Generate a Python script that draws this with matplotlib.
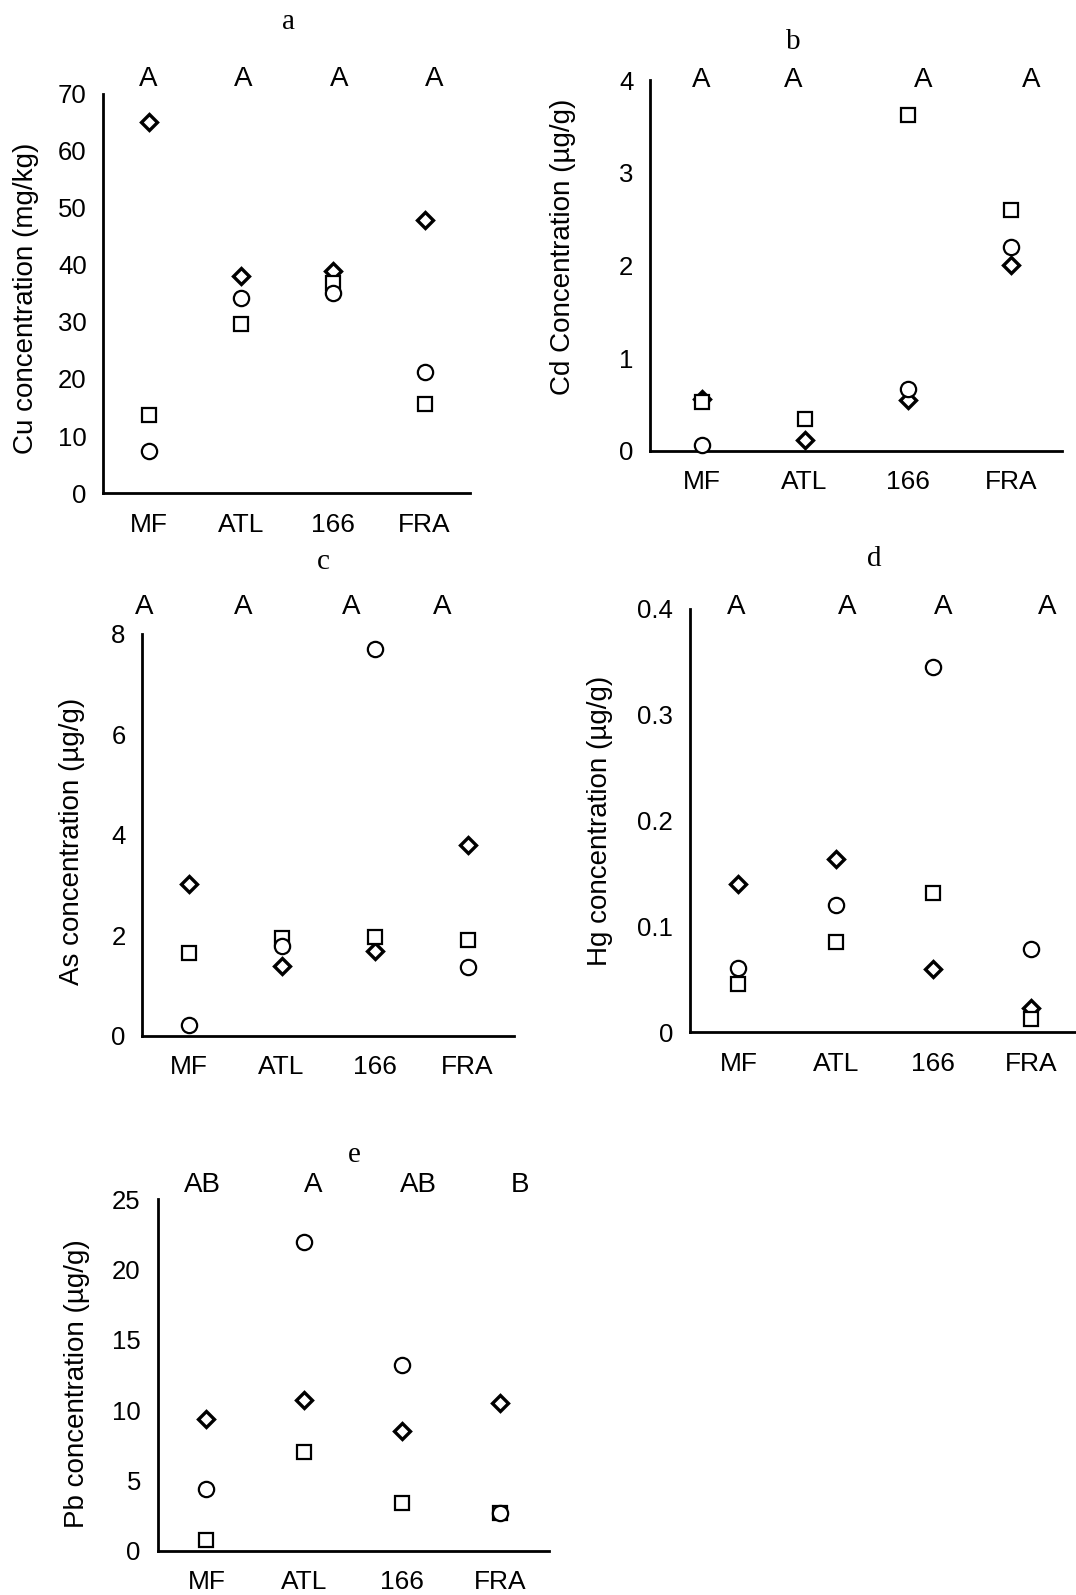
import numpy as np
import matplotlib
matplotlib.use('Agg')
import matplotlib.pyplot as plt
from matplotlib.ticker import FuncFormatter

# ---------------- data ----------------
categories = ['MF', 'ATL', '166', 'FRA']

cu_diamond = [65.0, 38.1, 38.9, 47.8]
cu_square = [13.7, 29.7, 36.9, 15.6]
cu_circle = [7.3, 34.2, 35.1, 21.3]
cu_letters = ['A', 'A', 'A', 'A']

cd_diamond = [0.56, 0.12, 0.55, 2.00]
cd_square = [0.53, 0.34, 3.62, 2.60]
cd_circle = [0.06, np.nan, 0.67, 2.20]
cd_letters = ['A', 'A', 'A', 'A']

as_diamond = [3.03, 1.40, 1.68, 3.80]
as_square = [1.64, 1.95, 1.97, 1.90]
as_circle = [0.21, 1.78, 7.70, 1.37]
as_letters = ['A', 'A', 'A', 'A']

hg_diamond = [0.140, 0.164, 0.060, 0.023]
hg_square = [0.046, 0.085, 0.132, 0.013]
hg_circle = [0.061, 0.120, 0.345, 0.079]
hg_letters = ['A', 'A', 'A', 'A']

pb_diamond = [9.35, 10.72, 8.52, 10.48]
pb_square = [0.76, 7.0, 3.42, 2.66]
pb_circle = [4.36, 21.99, 13.21, 2.66]
pb_letters = ['AB', 'A', 'AB', 'B']

cu_ticks = [0, 10, 20, 30, 40, 50, 60, 70]
cd_ticks = [0, 1, 2, 3, 4]
as_ticks = [0, 2, 4, 6, 8]
hg_ticks = [0, 0.1, 0.2, 0.3, 0.4]
pb_ticks = [0, 5, 10, 15, 20, 25]

# ---------------- layout (pixels) ----------------
W, H = 1076, 1595
SANS = ['Liberation Sans', 'DejaVu Sans']
SERIF = ['Liberation Serif', 'DejaVu Serif']

fig = plt.figure(figsize=(W / 100, H / 100), dpi=100)


def fx(x):
    return x / W


def fy(y):
    return 1 - y / H


panels = [
    dict(box=(103.3, 93.7, 470.5, 493.1), title='a', tpos=(288.6, 22.4),
         lx=[148, 242.8, 339.2, 434.6], ly=79.2, ylpos=(25.8, 298),
         ylabel='Cu concentration (mg/kg)',
         d=cu_diamond, s=cu_square, c=cu_circle, letters=cu_letters, ticks=cu_ticks),
    dict(box=(650.0, 80.0, 1062.3, 450.7), title='b', tpos=(792.9, 41.7),
         lx=[701.3, 792.9, 923.5, 1031.4], ly=80.0, ylpos=(563, 246.7),
         ylabel='Cd Concentration (\u00b5g/g)',
         d=cd_diamond, s=cd_square, c=cd_circle, letters=cd_letters, ticks=cd_ticks),
    dict(box=(142.2, 633.7, 514.0, 1035.9), title='c', tpos=(323.7, 562.4),
         lx=[144.6, 243.5, 351.2, 442.5], ly=607.1, ylpos=(72.3, 841.3),
         ylabel='As concentration (\u00b5g/g)',
         d=as_diamond, s=as_square, c=as_circle, letters=as_letters, ticks=as_ticks),
    dict(box=(689.6, 608.9, 1079.5, 1032.4), title='d', tpos=(874.3, 558.9),
         lx=[735.7, 847.3, 943.3, 1047.3], ly=607.1, ylpos=(600, 821.3),
         ylabel='Hg concentration (\u00b5g/g)',
         d=hg_diamond, s=hg_square, c=hg_circle, letters=hg_letters, ticks=hg_ticks),
    dict(box=(157.5, 1199.3, 549.0, 1550.7), title='e', tpos=(354.6, 1155),
         lx=[202.9, 313.6, 418.6, 519.6], ly=1185, ylpos=(76.8, 1383.3),
         ylabel='Pb concentration (\u00b5g/g)',
         d=pb_diamond, s=pb_square, c=pb_circle, letters=pb_letters, ticks=pb_ticks),
]

fmt = FuncFormatter(lambda v, p: '{:g}'.format(round(v, 6)))

for p in panels:
    x0, y0, x1, y1 = p['box']
    ax = fig.add_axes([fx(x0), fy(y1), (x1 - x0) / W, (y1 - y0) / H])
    xs = np.arange(len(categories))
    ax.plot(xs, p['d'], ls='none', marker='D', ms=8, mfc='white', mec='black',
            mew=2.4, zorder=3, clip_on=False)
    ax.plot(xs, p['s'], ls='none', marker='s', ms=10, mfc='white', mec='black',
            mew=1.6, zorder=4, clip_on=False)
    ax.plot(xs, p['c'], ls='none', marker='o', ms=11, mfc='white', mec='black',
            mew=1.6, zorder=5, clip_on=False)
    ax.set_xlim(-0.5, len(categories) - 0.5)
    ax.set_ylim(p['ticks'][0], p['ticks'][-1])
    ax.set_yticks(p['ticks'])
    ax.yaxis.set_major_formatter(fmt)
    ax.set_xticks(xs)
    ax.set_xticklabels(categories)
    for side in ('top', 'right'):
        ax.spines[side].set_visible(False)
    for side in ('left', 'bottom'):
        ax.spines[side].set_linewidth(2.0)
        ax.spines[side].set_color('black')
    ax.tick_params(axis='y', length=0, pad=12, labelsize=18.5)
    ax.tick_params(axis='x', length=0, pad=14, labelsize=19)
    for lab in ax.get_xticklabels() + ax.get_yticklabels():
        lab.set_fontfamily(SANS)
    ax.set_facecolor('none')

    fig.text(fx(p['tpos'][0]), fy(p['tpos'][1]), p['title'], ha='center', va='center',
             fontsize=21, family=SERIF)
    for lx, lt in zip(p['lx'], p['letters']):
        fig.text(fx(lx), fy(p['ly']), lt, ha='center', va='center',
                 fontsize=20, family=SANS)
    fig.text(fx(p['ylpos'][0]), fy(p['ylpos'][1]), p['ylabel'], rotation=90,
             ha='center', va='center', fontsize=20, family=SANS)

fig.savefig('out.png', dpi=100, facecolor='white')
